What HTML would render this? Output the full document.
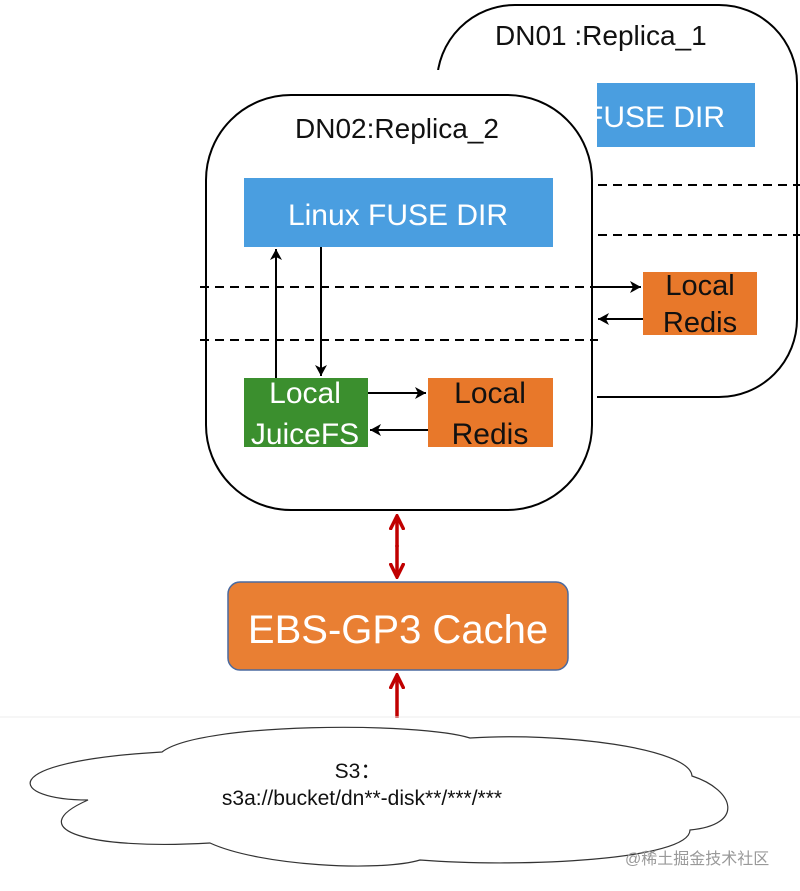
<!DOCTYPE html>
<html><head><meta charset="utf-8"><style>
html,body{margin:0;padding:0;background:#fff;}
svg{display:block;}
text{font-family:"Liberation Sans","Noto Sans CJK SC",sans-serif;}
</style></head><body>
<svg width="800" height="891" viewBox="0 0 800 891" xmlns="http://www.w3.org/2000/svg">
<defs>
<marker id="ab" markerWidth="14" markerHeight="14" refX="12" refY="7" orient="auto" markerUnits="userSpaceOnUse"><path d="M1,1 L12,7 L1,13 L4,7 Z" fill="#000"/></marker>
<marker id="ar" markerWidth="16" markerHeight="16" refX="13" refY="8" orient="auto" markerUnits="userSpaceOnUse"><path d="M0,1 L14,8 L0,15" fill="none" stroke="#c00000" stroke-width="3.5"/></marker>
</defs>
<!-- DN01 -->
<rect x="437" y="5" width="360" height="392" rx="78" fill="#fff" stroke="#000" stroke-width="2"/>
<rect x="430" y="70" width="167" height="335" fill="#fff"/>
<text x="495" y="45" font-size="28" fill="#111">DN01 :Replica_1</text>
<svg x="597" y="83" width="158" height="64"><rect x="0" y="0" width="158" height="64" fill="#4a9ee0"/>
<text x="-12" y="44" font-size="30" fill="#fff">FUSE DIR</text></svg>
<line x1="598" y1="185" x2="800" y2="185" stroke="#000" stroke-width="2" stroke-dasharray="9,6"/>
<line x1="598" y1="235" x2="800" y2="235" stroke="#000" stroke-width="2" stroke-dasharray="9,6"/>
<rect x="643" y="272" width="114" height="63" fill="#e8782a"/>
<text x="700" y="295" font-size="29" fill="#111" text-anchor="middle">Local</text>
<text x="700" y="332" font-size="29" fill="#111" text-anchor="middle">Redis</text>
<!-- DN02 -->
<rect x="206" y="95" width="386" height="415" rx="85" fill="#fff" stroke="#000" stroke-width="2"/>
<text x="397" y="138" font-size="28" fill="#111" text-anchor="middle">DN02:Replica_2</text>
<rect x="244" y="178" width="309" height="69" fill="#4a9ee0"/>
<text x="398" y="225" font-size="30" fill="#fff" text-anchor="middle">Linux FUSE DIR</text>
<line x1="200" y1="287" x2="598" y2="287" stroke="#000" stroke-width="2" stroke-dasharray="9,6"/>
<line x1="200" y1="340" x2="598" y2="340" stroke="#000" stroke-width="2" stroke-dasharray="9,6"/>
<line x1="598" y1="287" x2="641" y2="287" stroke="#000" stroke-width="2" marker-end="url(#ab)"/>
<line x1="643" y1="319" x2="598" y2="319" stroke="#000" stroke-width="2" marker-end="url(#ab)"/>
<line x1="276" y1="378" x2="276" y2="249" stroke="#000" stroke-width="2" marker-end="url(#ab)"/>
<line x1="321" y1="247" x2="321" y2="376" stroke="#000" stroke-width="2" marker-end="url(#ab)"/>
<rect x="244" y="378" width="124" height="69" fill="#3b8f2e"/>
<text x="305" y="403" font-size="30" fill="#fff" text-anchor="middle">Local</text>
<text x="305" y="444" font-size="30" fill="#fff" text-anchor="middle">JuiceFS</text>
<rect x="428" y="378" width="125" height="69" fill="#e8782a"/>
<text x="490" y="403" font-size="30" fill="#111" text-anchor="middle">Local</text>
<text x="490" y="444" font-size="30" fill="#111" text-anchor="middle">Redis</text>
<line x1="368" y1="393" x2="426" y2="393" stroke="#000" stroke-width="2" marker-end="url(#ab)"/>
<line x1="428" y1="430" x2="370" y2="430" stroke="#000" stroke-width="2" marker-end="url(#ab)"/>
<!-- red arrows -->
<line x1="397" y1="547" x2="397" y2="517" stroke="#c00000" stroke-width="3.5" marker-end="url(#ar)"/>
<line x1="397" y1="545" x2="397" y2="576" stroke="#c00000" stroke-width="3.5" marker-end="url(#ar)"/>
<line x1="397" y1="718" x2="397" y2="676" stroke="#c00000" stroke-width="3.5" marker-end="url(#ar)"/>
<!-- EBS -->
<rect x="228" y="582" width="340" height="88" rx="12" fill="#e97f33" stroke="#4a6aa0" stroke-width="1.5"/>
<text x="398" y="643" font-size="40" fill="#fff" text-anchor="middle">EBS-GP3 Cache</text>
<line x1="0" y1="717" x2="800" y2="717" stroke="#eee" stroke-width="1"/>
<!-- cloud -->
<path d="M162,752 C200,722 420,722 470,738 C560,732 690,748 692,776 C735,790 745,825 690,830 C690,860 520,868 420,860 C380,872 260,866 210,843 C90,850 20,830 88,800 C10,800 -10,762 162,752 Z" fill="#fff" stroke="#333" stroke-width="1.2"/>
<text x="358" y="778" font-size="21" fill="#111" text-anchor="middle">S3：</text>
<text x="362" y="805" font-size="21" fill="#111" text-anchor="middle">s3a://bucket/dn**-disk**/***/***</text>
<text x="625" y="864" font-size="16" fill="#999">@稀土掘金技术社区</text>
</svg>
</body></html>
